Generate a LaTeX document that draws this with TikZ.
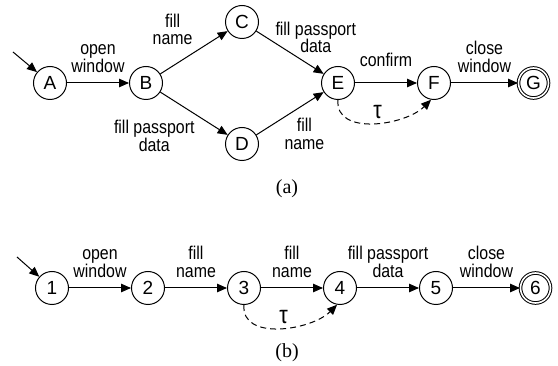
\documentclass[tikz,border=0pt]{standalone}
\usepackage{fontspec}
\usepackage{tikz}
\setmainfont{Liberation Serif}
\newfontfamily\sansfam{Liberation Sans}
\newfontfamily\narrowfam{Liberation Sans}[FakeStretch=0.86]
\newcommand{\statefont}{\sansfam\fontsize{19}{21}\selectfont}
\newcommand{\lblfont}{\narrowfam\fontsize{18.5}{17.7}\selectfont}
\newcommand{\taufont}{\narrowfam\fontsize{25}{25}\selectfont}
\newcommand{\capfont}{\rmfamily\fontsize{20}{24}\selectfont}
\usetikzlibrary{arrows.meta, positioning}

\begin{document}
\begin{tikzpicture}[
        x=1pt, y=1pt,
        node distance=62pt,
        state/.style={circle, draw, line width=1pt, minimum size=33pt,
                      inner sep=0pt, font=\statefont},
        accept/.style={state, double, double distance=1.6pt, minimum size=30pt},
        trans/.style={-{Triangle[length=10pt, width=8.5pt]}, line width=1pt},
        tauedge/.style={trans, dash pattern=on 6pt off 4pt},
        lbl/.style={font=\lblfont, align=center, inner sep=1pt},
        caption/.style={font=\capfont}
    ]
        \useasboundingbox (0,0) rectangle (558,-366);

        % (a) branching automaton
        \node[state] (A) at (50,-83) {A};
        \node[state, right=of A] (B) {B};
        \node[state, right=of B, yshift=61pt] (C) {C};
        \node[state, right=of B, yshift=-61pt] (D) {D};
        \node[state, right=of C, yshift=-61pt] (E) {E};
        \node[state, right=of E] (F) {F};
        \node[accept, right=of F, xshift=5pt] (G) {G};
        \coordinate[above left=19pt and 25pt of A] (initA);

        \draw[trans] (initA) -- (A);
        \draw[trans] (A) -- node[lbl, above=9pt] {open\\window} (B);
        \draw[trans] (B) -- node[lbl, above left=6pt and 0pt] {fill\\name} (C);
        \draw[trans] (B) -- node[lbl, below left=5pt and -2pt] {fill passport\\data} (D);
        \draw[trans] (C) -- node[lbl, above right=-2pt and -16pt] {fill passport\\data} (E);
        \draw[trans] (D) -- node[lbl, below right=3pt and -7pt] {fill\\name} (E);
        \draw[trans] (E) -- node[lbl, above=15pt] {confirm} (F);
        \draw[trans] (F) -- node[lbl, above=9pt] {close\\window} (G);
        \draw[tauedge] (E.south) to[out=-95, in=-135, looseness=1]
            node[lbl, font=\taufont, above=3pt, xshift=4pt] {τ} (F.-100);

        \node[caption] (capA) at (287,-189) {(a)};

        % (b) linear automaton
        \node[state] (s1) at (52,-288) {1};
        \node[state, right=of s1] (s2) {2};
        \node[state, right=of s2] (s3) {3};
        \node[state, right=of s3] (s4) {4};
        \node[state, right=of s4] (s5) {5};
        \node[accept, right=of s5, xshift=5pt] (s6) {6};
        \coordinate[above left=19pt and 23pt of s1] (initB);

        \draw[trans] (initB) -- (s1);
        \draw[trans] (s1) -- node[lbl, above=9pt] {open\\window} (s2);
        \draw[trans] (s2) -- node[lbl, above=9pt] {fill\\name} (s3);
        \draw[trans] (s3) -- node[lbl, above=9pt] {fill\\name} (s4);
        \draw[trans] (s4) -- node[lbl, above=9pt] {fill passport\\data} (s5);
        \draw[trans] (s5) -- node[lbl, above=9pt] {close\\window} (s6);
        \draw[tauedge] (s3.south) to[out=-95, in=-135, looseness=1]
            node[lbl, font=\taufont, above=3pt, xshift=4pt] {τ} (s4.-100);

        \node[caption] (capB) at (287,-353) {(b)};
\end{tikzpicture}
\end{document}
